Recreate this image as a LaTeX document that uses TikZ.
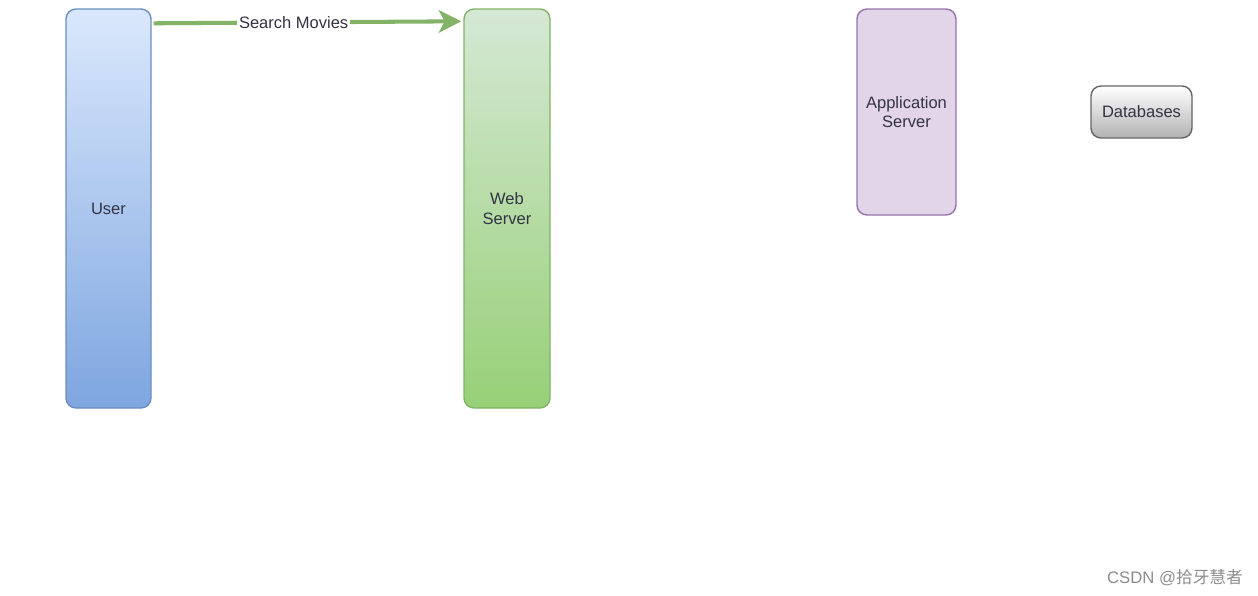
\documentclass[tikz,border=0pt]{standalone}
\usepackage{fontspec}
\setmainfont{Liberation Sans}
\newfontfamily\cjkfont{Noto Sans CJK SC}
\usetikzlibrary{arrows.meta}
\definecolor{blueTop}{HTML}{DAE8FC}
\definecolor{blueBot}{HTML}{7EA6E0}
\definecolor{blueLine}{HTML}{6C8EBF}
\definecolor{greenTop}{HTML}{D5E8D4}
\definecolor{greenBot}{HTML}{97D077}
\definecolor{greenLine}{HTML}{82B366}
\definecolor{purpleFill}{HTML}{E1D5E7}
\definecolor{purpleLine}{HTML}{9673A6}
\definecolor{greyLine}{HTML}{666666}
\definecolor{textGrey}{HTML}{333344}
\begin{document}
\begin{tikzpicture}[font=\fontsize{9.4}{11}\selectfont, text=textGrey,
  nodes={rectangle,rounded corners=.2cm,align=center,line width=.8pt},
  lane/.style={minimum width=1.7cm,minimum height=7.98cm},
  msg/.style={draw=greenLine,line width=2.3pt,-{Stealth[length=.45cm,width=.45cm,inset=.12cm]}}]
\useasboundingbox (0,0) rectangle (25.16,-11.92);
\node[lane,draw=blueLine,top color=blueTop,bottom color=blueBot] (user) at (2.17,-4.17) {User};
\node[lane,minimum width=1.72cm,draw=greenLine,top color=greenTop,bottom color=greenBot] (web) at (10.14,-4.17) {Web\\Server};
\node[draw=purpleLine,fill=purpleFill,minimum width=1.98cm,minimum height=4.12cm] (app) at (18.13,-2.24) {Application\\Server};
\node[draw=greyLine,top color=white,bottom color=black!30,minimum width=2.02cm,minimum height=1.04cm] (db) at (22.83,-2.24) {Databases};
\draw[msg] ([xshift=.04cm,yshift=-.3cm]user.north east) -- node[pos=.455,fill=white,inner sep=1pt,rounded corners=0pt] (search) {Search Movies} ([xshift=-.04cm,yshift=-.26cm]web.north west);
\node[text=black!45,font=\fontsize{9.5}{11}\selectfont] (mark) at (23.5,-11.56) {CSDN @{\cjkfont 拾牙慧者}};
\end{tikzpicture}
\end{document}
